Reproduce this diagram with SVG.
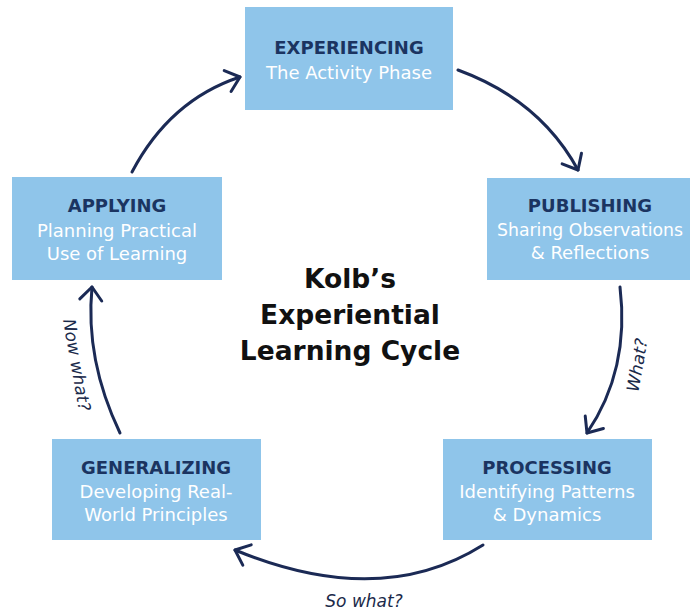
<svg xmlns="http://www.w3.org/2000/svg" width="699" height="613" viewBox="0 0 699 613">
<defs>
<style>
.box{fill:#8fc5ea}
.t{font-family:"DejaVu Sans","Liberation Sans",sans-serif;font-weight:bold;font-size:18px;fill:#1b3461;text-anchor:middle}
.s{font-family:"DejaVu Sans","Liberation Sans",sans-serif;font-size:18px;fill:#ffffff;text-anchor:middle}
.c{font-family:"DejaVu Sans","Liberation Sans",sans-serif;font-weight:bold;font-size:26.5px;fill:#111111;text-anchor:middle}
.q{font-family:"DejaVu Sans","Liberation Sans",sans-serif;font-style:italic;font-size:17px;fill:#1b2a4a;text-anchor:middle}
.a{fill:none;stroke:#1b2a55;stroke-width:3;stroke-linecap:round;marker-end:url(#h)}
</style>
<marker id="h" markerUnits="userSpaceOnUse" markerWidth="32" markerHeight="32" refX="16" refY="16" orient="auto">
<path d="M3,5 L16,16 L3,27" fill="none" stroke="#1b2a55" stroke-width="3" stroke-linecap="round" stroke-linejoin="round"/>
</marker>
</defs>
<rect width="699" height="613" fill="#ffffff"/>
<g id="connectors">
<path class="a" d="M132,172 Q170,100 240,77"/>
<path class="a" d="M458,70 Q540,100 578,170"/>
<path class="a" d="M620,287 Q630,370 587,433"/>
<path class="a" d="M483,545 Q380,610 235,550"/>
<path class="a" d="M120,433 Q85,360 92,287"/>
<text class="q" transform="translate(643,366) rotate(-80)">What?</text>
<text class="q" transform="translate(71,366) rotate(80)">Now what?</text>
<text class="q" x="364" y="607">So what?</text>
</g>
<g id="experiencing">
<rect class="box" x="245" y="7" width="208" height="103"/>
<text class="t" x="349" y="54">EXPERIENCING</text>
<text class="s" x="349" y="79">The Activity Phase</text>
</g>
<g id="publishing">
<rect class="box" x="487" y="178" width="203" height="102"/>
<text class="t" x="590" y="212">PUBLISHING</text>
<text class="s" x="590" y="236" textLength="186" lengthAdjust="spacingAndGlyphs">Sharing Observations</text>
<text class="s" x="590" y="259">&amp; Reflections</text>
</g>
<g id="applying">
<rect class="box" x="12" y="177" width="210" height="103"/>
<text class="t" x="117" y="212">APPLYING</text>
<text class="s" x="117" y="237">Planning Practical</text>
<text class="s" x="117" y="260">Use of Learning</text>
</g>
<g id="processing">
<rect class="box" x="443" y="439" width="209" height="101"/>
<text class="t" x="547" y="474">PROCESSING</text>
<text class="s" x="547" y="498">Identifying Patterns</text>
<text class="s" x="547" y="521">&amp; Dynamics</text>
</g>
<g id="generalizing">
<rect class="box" x="52" y="439" width="209" height="101"/>
<text class="t" x="156" y="474">GENERALIZING</text>
<text class="s" x="156" y="498">Developing Real-</text>
<text class="s" x="156" y="521">World Principles</text>
</g>
<g id="title">
<text class="c" x="350" y="288">Kolb’s</text>
<text class="c" x="350" y="324">Experiential</text>
<text class="c" x="350" y="360">Learning Cycle</text>
</g>
</svg>
